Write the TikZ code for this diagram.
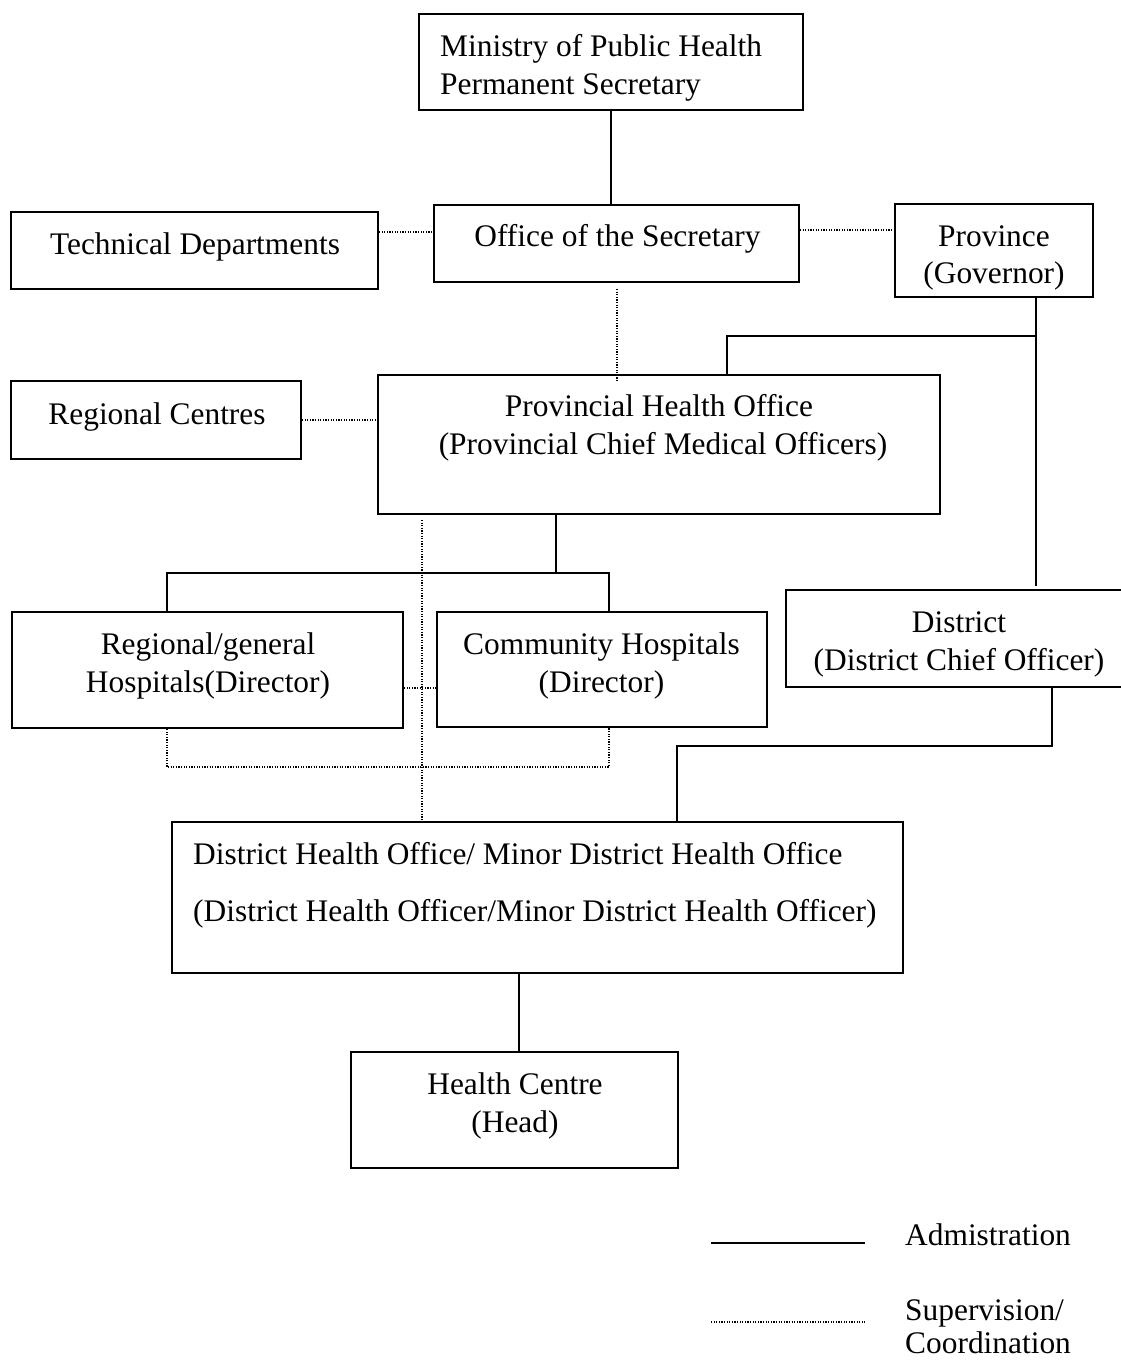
\documentclass[tikz,border=0pt]{standalone}
\usepackage{fontspec}
\setmainfont{Liberation Serif}
\begin{document}
\begin{tikzpicture}[x=1pt, y=-1pt,
  box/.style={draw, line width=1.9pt, inner sep=0pt, minimum width=#1},
  box/.default=100,
  txt/.style={inner sep=0pt, anchor=base, font=\fontsize{31.4}{38}\selectfont},
  ltxt/.style={txt, anchor=base west},
  adm/.style={line width=1.9pt},
  sup/.style={line width=1.3pt, dash pattern=on 1.2pt off 1.4pt}]
\clip (0,0) rectangle (1121,1360);
\useasboundingbox (0,0) rectangle (1121,1360);

% boxes
\node[box=384, minimum height=96]  (min)  at (611,62)      {};
\node[box=365, minimum height=77]  (ofc)  at (616.5,243.5) {};
\node[box=367, minimum height=77]  (tech) at (194.5,250.5) {};
\node[box=198, minimum height=93]  (prov) at (994,250.5)   {};
\node[box=290, minimum height=78]  (rc)   at (156,420)     {};
\node[box=562, minimum height=139] (pho)  at (659,444.5)   {};
\node[box=391, minimum height=116] (rgh)  at (207.5,670)   {};
\node[box=330, minimum height=115] (ch)   at (602,669.5)   {};
\node[box=339, minimum height=97]  (dist) at (955.5,638.5) {};
\node[box=731, minimum height=151] (dho)  at (537.5,897.5) {};
\node[box=327, minimum height=116] (hc)   at (514.5,1110)  {};

% texts
\node[ltxt] (min-a) at (440,56) {Ministry of Public Health};
\node[ltxt] (min-b) at (440,94) {Permanent Secretary};
\node[txt] (ofc-a) at (617.5,246) {Office of the Secretary};
\node[txt] (tech-a) at (195,254) {Technical Departments};
\node[txt] (prov-a) at (994,246) {Province};
\node[txt] (prov-b) at (994,283) {(Governor)};
\node[txt] (rc-a) at (157,424) {Regional Centres};
\node[txt] (pho-a) at (659,416) {Provincial Health Office};
\node[txt] (pho-b) at (663,454) {(Provincial Chief Medical Officers)};
\node[txt] (rgh-a) at (208,654) {Regional/general};
\node[txt] (rgh-b) at (208,692) {Hospitals(Director)};
\node[txt] (ch-a) at (601.5,654) {Community Hospitals};
\node[txt] (ch-b) at (601.5,692) {(Director)};
\node[txt] (dist-a) at (959,632) {District};
\node[txt] (dist-b) at (959,670) {(District Chief Officer)};
\node[ltxt] (dho-a) at (193,864) {District Health Office/ Minor District Health Office};
\node[ltxt] (dho-b) at (193,921) {(District Health Officer/Minor District Health Officer)};
\node[txt] (hc-a) at (515,1094) {Health Centre};
\node[txt] (hc-b) at (515,1132) {(Head)};

% administration links
\draw[adm] (min.south) -- (min.south |- ofc.north);
\draw[adm] (prov.south -| 1036,0) -- (1036,586);
\draw[adm] (1036,336) -| (pho.north -| 727,0);
\draw[adm] (pho.south -| 556,0) -- (556,573);
\draw[adm] (rgh.north -| 167,0) -- (167,573) -- (609,573) -- (ch.north -| 609,0);
\draw[adm] (dist.south -| 1052,0) -- (1052,746) -- (677,746) -- (dho.north -| 677,0);
\draw[adm] (dho.south -| 519,0) -- (hc.north -| 519,0);

% supervision / coordination links
\draw[sup] (tech.east |- 0,232) -- (ofc.west |- 0,232);
\draw[sup] (ofc.east |- 0,230) -- (prov.west |- 0,230);
\draw[sup] (617,289) -- (617,382);
\draw[sup] (rc.east) -- (rc.east -| pho.west);
\draw[sup] (422,520) -- (dho.north -| 422,0);
\draw[sup] (rgh.east |- 0,688) -- (ch.west |- 0,688);
\draw[sup] (rgh.south -| 167,0) -- (167,767) -- (609,767) -- (ch.south -| 609,0);

% legend
\coordinate (la1) at (711,1243);
\coordinate (la2) at (865,1243);
\coordinate (ls1) at (711,1322);
\coordinate (ls2) at (865,1322);
\draw[adm] (la1) -- (la2);
\draw[sup] (ls1) -- (ls2);
\node[ltxt] (lg-a) at (905,1245) {Admistration};
\node[ltxt] (lg-b) at (905,1320) {Supervision/};
\node[ltxt] (lg-c) at (905,1353) {Coordination};
\end{tikzpicture}
\end{document}
